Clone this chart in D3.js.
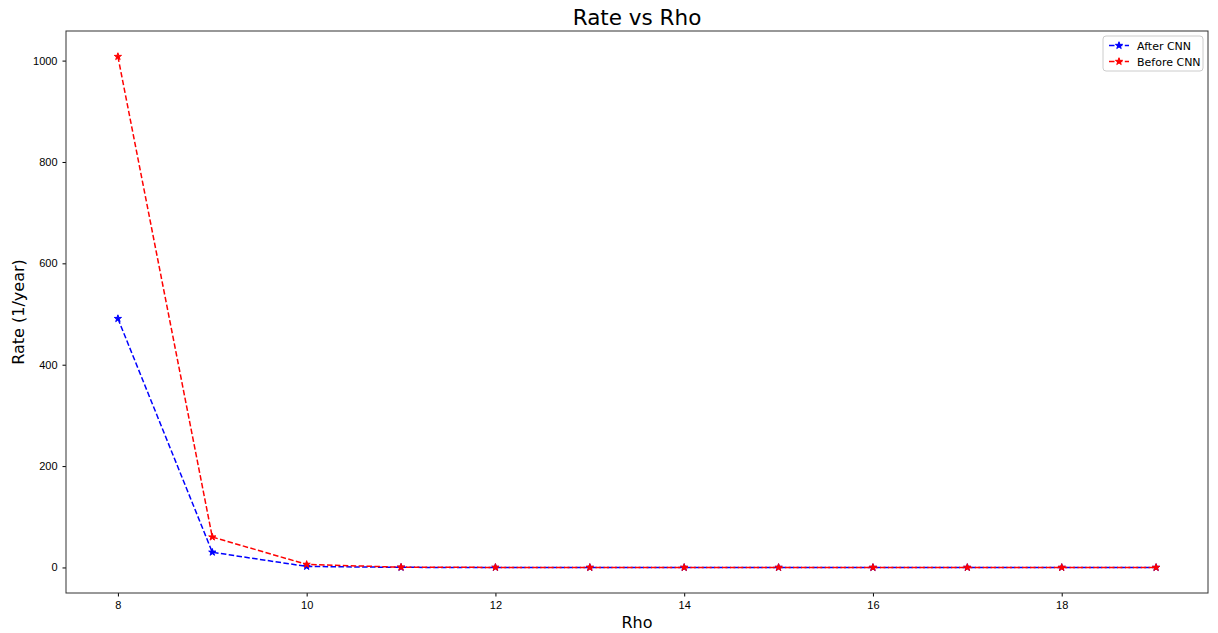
<!DOCTYPE html>
<html>
<head>
<meta charset="utf-8">
<script src="https://cdn.jsdelivr.net/npm/d3@7"></script>
<style>
  body { margin: 0; background: #fff; }
  svg { font-family: "DejaVu Sans", sans-serif; }
</style>
</head>
<body>
<svg id="chart" width="1218" height="633"></svg>
<script>
// data
var rho = [8, 9, 10, 11, 12, 13, 14, 15, 16, 17, 18, 19];
var afterCNN = [491, 30, 2, 0.2, 0, 0, 0, 0, 0, 0, 0, 0];
var beforeCNN = [1008, 60, 6, 0.5, 0.1, 0, 0, 0, 0, 0, 0, 0];
var xTicks = [8, 10, 12, 14, 16, 18];
var yTicks = [0, 200, 400, 600, 800, 1000];

var series = [
  { name: 'After CNN', values: afterCNN, color: 'blue' },
  { name: 'Before CNN', values: beforeCNN, color: 'red' }
];

var svg = d3.select('#chart');
var margin = { top: 31, right: 10, bottom: 40, left: 66 };
var width = 1218 - margin.left - margin.right;
var height = 633 - margin.top - margin.bottom;

var x = d3.scaleLinear().domain([7.45, 19.55]).range([margin.left, margin.left + width]);
var y = d3.scaleLinear().domain([-50.4, 1058.4]).range([margin.top + height, margin.top]);

// title
svg.append('text')
  .attr('x', margin.left + width / 2).attr('y', 25)
  .attr('text-anchor', 'middle')
  .style('font-size', '21.5px')
  .text('Rate vs Rho');

// axes
var xAxis = g => g
  .attr('transform', `translate(0, ${margin.top + height})`)
  .call(d3.axisBottom(x).tickValues(xTicks).tickFormat(d3.format('d')).tickSize(3.5).tickPadding(5))
  .call(g => g.select('.domain').remove())
  .call(g => g.selectAll('text').style('font-size', '11px').attr('fill', '#000'));

var yAxis = g => g
  .attr('transform', `translate(${margin.left}, 0)`)
  .call(d3.axisLeft(y).tickValues(yTicks).tickFormat(d3.format('d')).tickSize(3.5).tickPadding(5))
  .call(g => g.select('.domain').remove())
  .call(g => g.selectAll('text').style('font-size', '11px').attr('fill', '#000'));

svg.append('g').call(xAxis);
svg.append('g').call(yAxis);

// frame
svg.append('rect')
  .attr('x', margin.left).attr('y', margin.top)
  .attr('width', width).attr('height', height)
  .attr('fill', 'none').attr('stroke', '#333').attr('stroke-width', 1);

// axis labels
svg.append('text')
  .attr('x', margin.left + width / 2).attr('y', 628)
  .attr('text-anchor', 'middle')
  .style('font-size', '16px')
  .text('Rho');

svg.append('text')
  .attr('transform', `translate(24, ${margin.top + height / 2}) rotate(-90)`)
  .attr('text-anchor', 'middle')
  .style('font-size', '16px')
  .text('Rate (1/year)');

var line = d3.line()
  .x((d, i) => x(rho[i]))
  .y(d => y(d));

var star = d3.symbol().type(d3.symbolStar).size(16);

series.forEach(function(s) {
  svg.append('path')
    .datum(s.values)
    .attr('d', line)
    .attr('fill', 'none')
    .attr('stroke', s.color)
    .attr('stroke-width', 1.5)
    .attr('stroke-dasharray', '5.5,2.4');

  svg.append('g')
    .selectAll('path').data(s.values).enter().append('path')
    .attr('d', star)
    .attr('transform', (d, i) => `translate(${x(rho[i])}, ${y(d)})`)
    .attr('fill', s.color)
    .attr('stroke', s.color)
    .attr('stroke-width', 1);
});

// legend
var legend = svg.append('g').attr('transform', 'translate(1103, 36)');
legend.append('rect')
  .attr('width', 100).attr('height', 35).attr('rx', 3)
  .attr('fill', '#fff').attr('fill-opacity', 0.8)
  .attr('stroke', '#ccc');

series.forEach(function(s, i) {
  var ly = 9.5 + i * 16;
  legend.append('line')
    .attr('x1', 6).attr('x2', 26).attr('y1', ly).attr('y2', ly)
    .attr('stroke', s.color).attr('stroke-width', 1.5)
    .attr('stroke-dasharray', '5.5,2.4');
  legend.append('path')
    .attr('d', star)
    .attr('transform', `translate(16, ${ly})`)
    .attr('fill', s.color).attr('stroke', s.color).attr('stroke-width', 1);
  legend.append('text')
    .attr('x', 34).attr('y', ly + 4)
    .style('font-size', '11px')
    .text(s.name);
});
</script>
</body>
</html>
